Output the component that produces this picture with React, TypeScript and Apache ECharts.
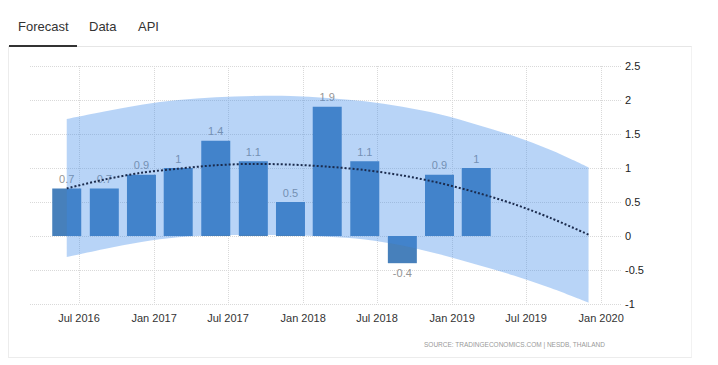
import React, { useEffect, useRef } from 'react';
import * as echarts from 'echarts';

const barDates = ['2016-06-01', '2016-09-01', '2016-12-01', '2017-03-01', '2017-06-01', '2017-09-01', '2017-12-01', '2018-03-01', '2018-06-01', '2018-09-01', '2018-12-01', '2019-03-01'];
const barValues = [0.7, 0.7, 0.9, 1, 1.4, 1.1, 0.5, 1.9, 1.1, -0.4, 0.9, 1];
const forecastDates = [...barDates, '2019-06-01', '2019-09-01', '2019-12-01'];
const trendValues = [0.7, 0.83, 0.93, 0.99, 1.04, 1.06, 1.05, 1.02, 0.97, 0.89, 0.78, 0.64, 0.47, 0.26, 0.02];
const upperValues = [1.72, 1.83, 1.93, 2.0, 2.04, 2.06, 2.06, 2.03, 1.98, 1.9, 1.79, 1.64, 1.47, 1.26, 1.01];
const lowerValues = [-0.31, -0.19, -0.09, -0.02, 0.01, 0.02, 0.01, -0.01, -0.05, -0.14, -0.27, -0.42, -0.58, -0.77, -0.98];
const xTickDates = ['2016-07-01', '2017-01-01', '2017-07-01', '2018-01-01', '2018-07-01', '2019-01-01', '2019-07-01', '2020-01-01'];
const monthNames = ['Jan', 'Feb', 'Mar', 'Apr', 'May', 'Jun', 'Jul', 'Aug', 'Sep', 'Oct', 'Nov', 'Dec'];
const tabs = ['Forecast', 'Data', 'API'];
const sourceText = 'SOURCE: TRADINGECONOMICS.COM | NESDB, THAILAND';

const ts = (s: string) => Date.parse(s + 'T00:00:00Z');

// Catmull-Rom spline through screen points -> SVG path commands (rendering only)
function splineCmds(pts: number[][], start: boolean): string {
  let d = start ? `M${pts[0][0]},${pts[0][1]}` : `L${pts[0][0]},${pts[0][1]}`;
  for (let i = 0; i < pts.length - 1; i++) {
    const p0 = pts[Math.max(i - 1, 0)];
    const p1 = pts[i];
    const p2 = pts[i + 1];
    const p3 = pts[Math.min(i + 2, pts.length - 1)];
    const c1x = p1[0] + (p2[0] - p0[0]) / 6;
    const c1y = p1[1] + (p2[1] - p0[1]) / 6;
    const c2x = p2[0] - (p3[0] - p1[0]) / 6;
    const c2y = p2[1] - (p3[1] - p1[1]) / 6;
    d += ` C${c1x},${c1y} ${c2x},${c2y} ${p2[0]},${p2[1]}`;
  }
  return d;
}

export default function App() {
  const ref = useRef<HTMLDivElement>(null);
  useEffect(() => {
    if (!ref.current) return;
    const chart = echarts.init(ref.current, undefined, { renderer: 'svg' });
    const font = 'Liberation Sans, Arial, sans-serif';
    chart.setOption({
      animation: false,
      grid: { left: 30, right: 96, top: 66, bottom: 61 },
      xAxis: {
        type: 'value',
        min: Date.UTC(2016, 2, 3),
        max: Date.UTC(2020, 1, 21),
        axisLine: { show: false },
        axisTick: { show: false, customValues: xTickDates.map(ts) },
        splitLine: { show: true, lineStyle: { color: '#d9d9d9', type: [1, 1], width: 1 } },
        axisLabel: {
          customValues: xTickDates.map(ts),
          margin: 8,
          color: '#333',
          fontSize: 11,
          fontFamily: font,
          formatter: (v: number) => {
            const d = new Date(v);
            return monthNames[d.getUTCMonth()] + ' ' + d.getUTCFullYear();
          },
        },
      },
      yAxis: {
        type: 'value',
        position: 'right',
        min: -1,
        max: 2.5,
        interval: 0.5,
        axisLine: { show: false },
        axisTick: { show: false },
        splitLine: { show: true, lineStyle: { color: '#d9d9d9', type: [1, 1], width: 1 } },
        axisLabel: { margin: 3, color: '#222', fontSize: 11, fontFamily: font },
      },
      series: [
        {
          type: 'bar',
          z: 2,
          barWidth: 29,
          itemStyle: { color: '#4780bb' },
          label: {
            show: true,
            position: 'top',
            distance: 4,
            color: '#959595',
            fontSize: 11,
            fontFamily: font,
            formatter: (p: any) => String(p.value[1]),
          },
          data: barDates.map((d, i) => ({
            value: [ts(d), barValues[i]],
            label: barValues[i] < 0 ? { position: 'bottom' } : undefined,
          })),
        },
        {
          type: 'custom',
          z: 3,
          silent: true,
          encode: { x: 0, y: [1, 2] },
          data: forecastDates.map((d, i) => [ts(d), lowerValues[i], upperValues[i]]),
          renderItem: (params: any, api: any) => {
            if (params.dataIndex !== 0) return null;
            const up = forecastDates.map((d, i) => api.coord([ts(d), upperValues[i]]));
            const lo = forecastDates.map((d, i) => api.coord([ts(d), lowerValues[i]])).reverse();
            const pathData = splineCmds(up, true) + ' ' + splineCmds(lo, false) + ' Z';
            return {
              type: 'path',
              shape: { pathData },
              style: { fill: 'rgba(57,136,233,0.36)', stroke: 'none' },
            };
          },
        },
        {
          type: 'line',
          z: 4,
          smooth: 0.3,
          symbol: 'none',
          lineStyle: { color: '#1b2b4d', width: 2, type: [2, 2] },
          data: forecastDates.map((d, i) => [ts(d), trendValues[i]]),
        },
      ],
      graphic: [
        {
          type: 'text',
          left: 424,
          top: 341,
          style: { text: sourceText, fill: '#999', font: '6.5px Liberation Sans, Arial, sans-serif' },
        },
      ],
    });
    return () => chart.dispose();
  }, []);

  return (
    <div style={{ position: 'absolute', left: 0, top: 0, width: 718, height: 365, background: '#fff', overflow: 'hidden', fontFamily: 'Liberation Sans, Arial, sans-serif' }}>
      <div style={{ position: 'absolute', left: 8, top: 46, width: 684, height: 312, borderLeft: '1px solid #ececec', borderRight: '1px solid #f2f2f2', borderBottom: '1px solid #ececec', borderTop: '1px solid #e6e6e6', boxSizing: 'border-box' }} />
      <div style={{ position: 'absolute', left: 9, top: 45, width: 68, height: 2, background: '#333' }} />
      {tabs.map((t, i) => (
        <div key={t} style={{ position: 'absolute', left: [18, 89, 138][i], top: 19, fontSize: 13, color: '#333', lineHeight: '16px' }}>{t}</div>
      ))}
      <div ref={ref} style={{ position: 'absolute', left: 0, top: 0, width: 718, height: 365 }} />
    </div>
  );
}
